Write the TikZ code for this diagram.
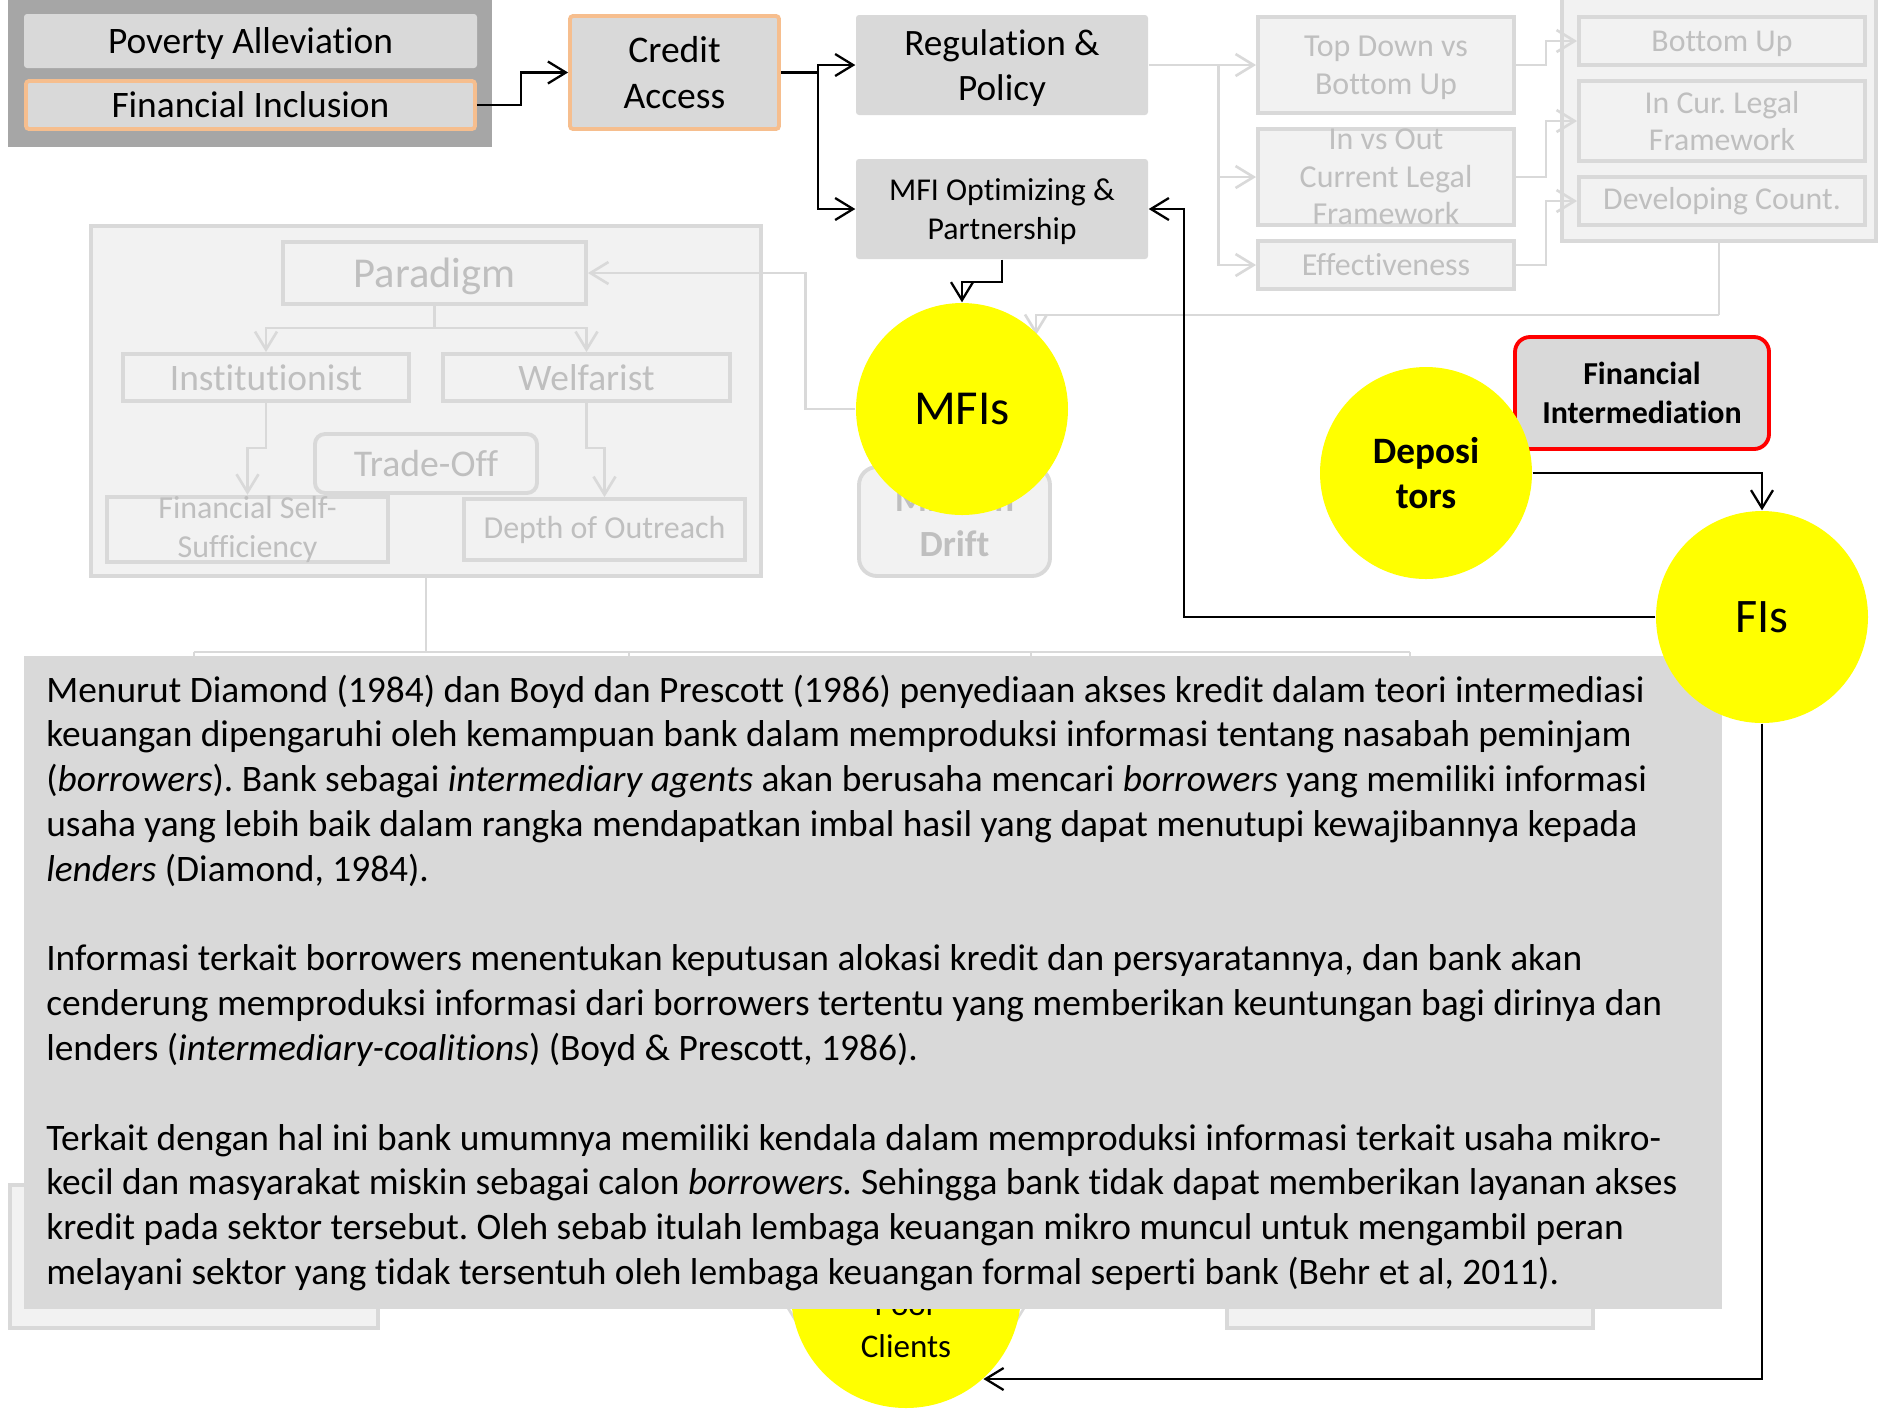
\documentclass[tikz,border=0pt]{standalone}
\usepackage{fontspec}
\setmainfont{Carlito}[Ligatures=NoCommon]
\usetikzlibrary{arrows.meta,shapes.geometric}

\definecolor{boxgray}{HTML}{D9D9D9}
\definecolor{groupgray}{HTML}{A6A6A6}
\definecolor{peach}{HTML}{F6BE8E}
\definecolor{fadefill}{HTML}{F2F2F2}
\definecolor{fadeedge}{HTML}{D9D9D9}
\definecolor{fadeink}{HTML}{BFBFBF}
\definecolor{sun}{HTML}{FFFF00}
\definecolor{alarm}{HTML}{FF0000}

\newcommand{\fsz}[2]{\fontsize{#1}{#2}\selectfont}
\frenchspacing

\begin{document}
\begin{tikzpicture}[x=0.1mm, y=-0.1mm,
  greybox/.style={fill=boxgray, inner sep=0pt, align=center, rounded corners=0.3mm},
  peachbox/.style={greybox, draw=peach, line width=1.1pt},
  fadebox/.style={fill=fadefill, draw=fadeedge, line width=1.1pt, text=fadeink,
                  inner sep=0pt, align=center},
  bubble/.style={circle, fill=sun, minimum size=21.2mm, inner sep=0pt, align=center},
  arr/.style={line width=0.65pt, -{Straight Barb[length=1.8mm,width=2.2mm]}},
  fadearr/.style={draw=fadeedge, line width=0.75pt, -{Straight Barb[length=1.8mm,width=2.2mm]}},
  fadelink/.style={draw=fadeedge, line width=0.75pt},
]
\useasboundingbox (0,0) rectangle (1880,1409);

% ---------- goal block ----------
\node[fill=groupgray, minimum width=48.4mm, minimum height=15.2mm, inner sep=0pt] (goals) at (250,71) {};
\node[greybox, minimum width=45.3mm, minimum height=5.4mm, font=\fsz{10.64}{12.9}, text depth=0pt] (poverty) at (250.5,41) {Poverty Alleviation};
\node[peachbox, minimum width=44.9mm, minimum height=4.8mm, font=\fsz{10.64}{12.9}] (inclusion) at (250.5,105) {Financial Inclusion};
\node[peachbox, minimum width=20.9mm, minimum height=11.3mm, font=\fsz{10.7}{12.9}] (credit) at (674.5,72.5) {Credit\\Access};

\node[greybox, minimum width=29.2mm, minimum height=10mm, font=\fsz{10.6}{12.9}, text depth=0pt] (reg) at (1002,65) {Regulation \&\\Policy};
\node[greybox, minimum width=29.2mm, minimum height=10mm, font=\fsz{9.05}{10.9}, text depth=0pt] (mfiopt) at (1002,209) {MFI Optimizing \&\\Partnership};

% ---------- regulation branch (faded) ----------
\node[fadebox, minimum width=31.4mm, minimum height=24.4mm] (rgroup) at (1719,119) {};
\node[fadebox, minimum width=25.6mm, minimum height=9.6mm, font=\fsz{9.1}{10.7}, text depth=0pt] (topdown) at (1386,65) {Top Down vs\\Bottom Up};
\node[fadebox, minimum width=25.6mm, minimum height=9.6mm, font=\fsz{9.1}{10.7}] (inout) at (1386,177) {In vs Out\\Current Legal\\Framework};
\node[fadebox, minimum width=25.6mm, minimum height=4.8mm, font=\fsz{9.1}{10.7}] (effect) at (1386,265) {Effectiveness};
\node[fadebox, minimum width=28.6mm, minimum height=4.8mm, font=\fsz{9.05}{10.7}, text depth=0pt] (bottomup) at (1722,41) {Bottom Up};
\node[fadebox, minimum width=28.6mm, minimum height=8mm, font=\fsz{9.05}{10.7}] (incur) at (1722,121) {In Cur. Legal\\Framework};
\node[fadebox, minimum width=28.6mm, minimum height=4.8mm, font=\fsz{9.05}{10.7}] (developing) at (1722,201) {Developing Count.};

\draw[fadelink] (reg.east) -- ++(70,0) coordinate (regfork);
\draw[fadearr] (regfork) |- (topdown.west);
\draw[fadearr] (regfork) |- (inout.west);
\draw[fadearr] (regfork) |- (effect.west);
\draw[fadearr] (topdown.east) -- ++(30,0) |- (bottomup.west);
\draw[fadearr] (inout.east) -- ++(30,0) |- (incur.west);
\draw[fadearr] (effect.east) -- ++(30,0) |- (developing.west);

% ---------- paradigm block (faded) ----------
\node[fadebox, minimum width=67mm, minimum height=35mm] (pgroup) at (426,401) {};
\node[fadebox, minimum width=30.3mm, minimum height=6.2mm, font=\fsz{12.1}{14}, text depth=0pt] (paradigm) at (434.5,273) {Paradigm};
\node[fadebox, minimum width=28.6mm, minimum height=4.7mm, font=\fsz{10.64}{12.5}] (inst) at (266,377.5) {Institutionist};
\node[fadebox, minimum width=28.7mm, minimum height=4.7mm, font=\fsz{10.64}{12.5}] (welf) at (586.5,377.5) {Welfarist};
\node[fadebox, minimum width=28.1mm, minimum height=6.1mm, font=\fsz{9.1}{10.9}] (fss) at (247.5,529.5) {Financial Self-\\Sufficiency};
\node[fadebox, minimum width=28.1mm, minimum height=6.1mm, font=\fsz{9.1}{10.9}] (depth) at (604.5,529.5) {Depth of Outreach};
\node[fadebox, rounded corners=1mm, minimum width=22.2mm, minimum height=5.9mm, font=\fsz{10.74}{12.5}] (tradeoff) at (426,463.5) {Trade-Off};

\draw[fadearr] (paradigm.south) -- ++(0,22) -| (inst.north);
\draw[fadearr] (paradigm.south) -- ++(0,22) -| (welf.north);
\draw[fadearr] (inst.south) -- ++(0,45) -| (fss.north);
\draw[fadearr] (welf.south) -- ++(0,45) -| (depth.north);

% ---------- lower faded boxes, mostly behind the text panel ----------
\node[fadebox, minimum width=36.8mm, minimum height=14.3mm] (lowleft) at (194,1256.5) {};
\node[fadebox, minimum width=36.6mm, minimum height=14.3mm] (lowright) at (1410,1256.5) {};
\coordinate (busM) at (426,652);
\coordinate (busL) at (194,652);
\coordinate (busR) at (1410,652);
\coordinate (busA) at (629,652);
\coordinate (busB) at (1031,652);
\coordinate (poortipL) at (795,1322);
\coordinate (poortipR) at (1017,1322);
\draw[fadelink] (pgroup.south) -- (busM);
\draw[fadelink] (busL) -- (busR);
\draw[fadearr] (busL) -- (lowleft.north);
\draw[fadearr] (busR) -- (lowright.north);
\draw[fadearr] (busA) -- ++(0,600) -| (poortipL);
\draw[fadearr] (busB) -- ++(0,600) -| (poortipR);

\node[bubble, minimum size=23mm] (poor) at (906,1293) {};
\node[font=\fsz{9.4}{11.9}, align=center, inner sep=0pt] (poortext) at (906,1326) {Poor\\Clients};

% ---------- explanatory panel ----------
\node[fill=boxgray, minimum width=169.8mm, minimum height=65.3mm, inner sep=0pt] (panel) at (873,982.5) {};
\node[anchor=north west, inner sep=0pt, align=left, font=\fsz{10.64}{12.75}] (paneltext) at (45.6,674) {%
Menurut Diamond (1984) dan Boyd dan Prescott (1986) penyediaan akses kredit dalam teori intermediasi\\
keuangan dipengaruhi oleh kemampuan bank dalam memproduksi informasi tentang nasabah peminjam\\
(\textit{borrowers}). Bank sebagai \textit{intermediary agents} akan berusaha mencari \textit{borrowers} yang memiliki informasi\\
usaha yang lebih baik dalam rangka mendapatkan imbal hasil yang dapat menutupi kewajibannya kepada\\
\textit{lenders} (Diamond, 1984).\\[12.75pt]
Informasi terkait borrowers menentukan keputusan alokasi kredit dan persyaratannya, dan bank akan\\
cenderung memproduksi informasi dari borrowers tertentu yang memberikan keuntungan bagi dirinya dan\\
lenders (\textit{intermediary-coalitions}) (Boyd \& Prescott, 1986).\\[12.75pt]
Terkait dengan hal ini bank umumnya memiliki kendala dalam memproduksi informasi terkait usaha mikro-\\
kecil dan masyarakat miskin sebagai calon \textit{borrowers.} Sehingga bank tidak dapat memberikan layanan akses\\
kredit pada sektor tersebut. Oleh sebab itulah lembaga keuangan mikro muncul untuk mengambil peran\\
melayani sektor yang tidak tersentuh oleh lembaga keuangan formal seperti bank (Behr et al, 2011).};

% ---------- MFIs and surroundings ----------
\node[fadebox, rounded corners=1.8mm, minimum width=19.1mm, minimum height=10.9mm,
      font=\bfseries\fsz{10.5}{12.8}] (drift) at (954.5,521.5) {Mission\\Drift};
\coordinate (mfitip) at (1036,335);
\draw[fadelink] (rgroup.south) -- ++(0,72) coordinate (rdrop);
\draw[fadearr] (rdrop) -| (mfitip);
\node[bubble, font=\fsz{13.9}{15}] (mfis) at (962,409) {MFIs};
\draw[fadearr] (mfis.west) -- ++(-50,0) |- (paradigm.east);

% ---------- financial intermediation ----------
\node[greybox, draw=alarm, line width=1.1pt, rounded corners=1.5mm, minimum width=25.4mm,
      minimum height=11.2mm, font=\bfseries\fsz{9.1}{10.9}] (interm) at (1642,393) {Financial\\Intermediation};
\node[bubble, font=\bfseries\fsz{10.6}{12.9}] (dep) at (1426,473) {Deposi\\tors};
\node[bubble, font=\fsz{13.7}{15}] (fis) at (1762,617) {FIs};

% ---------- main flow ----------
\draw[arr] (inclusion.east) -- ++(44,0) |- (credit.west);
\draw[arr] (credit.east) -- ++(37,0) coordinate (creditfork) |- (reg.west);
\draw[arr] (creditfork) |- (mfiopt.west);
\draw[arr] (mfiopt.south) -- ++(0,22) -| (mfis.north);
\draw[arr] (dep.east) -| (fis.north);
\draw[arr] (fis.west) -- ++(-471,0) |- (mfiopt.east);
\draw[arr] (fis.south) |- (poor.-48);
\end{tikzpicture}
\end{document}
